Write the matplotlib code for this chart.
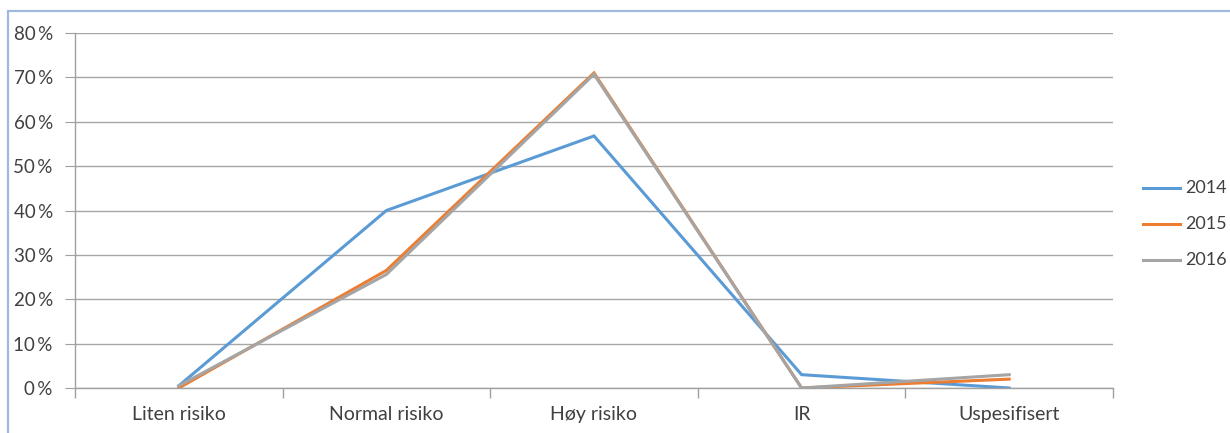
import matplotlib
matplotlib.use("Agg")
import matplotlib.pyplot as plt
from matplotlib.lines import Line2D
from matplotlib.patches import Rectangle
from matplotlib.ticker import FuncFormatter, MultipleLocator

categories = ["Liten risiko", "Normal risiko", "Høy risiko", "IR", "Uspesifisert"]
years = ["2014", "2015", "2016"]
v2014 = [0.5, 40.0, 56.8, 3.0, 0.0]
v2015 = [0.0, 26.5, 71.0, 0.0, 2.0]
v2016 = [0.5, 25.6, 70.7, 0.0, 3.0]
colors = ["#5B9BD5", "#ED7D31", "#A5A5A5"]

plt.rcParams["font.family"] = ["Lato", "DejaVu Sans"]
FS = 14
W, H = 1230, 433

fig = plt.figure(figsize=(12.3, 4.33), dpi=100)
# chart-area frame: only its top and left edges are inside the crop
fig.patches.append(Rectangle((8 / W, -0.05), 1.1, 1.05 - 11 / H,
                             transform=fig.transFigure, fill=False,
                             edgecolor="#9DB9DC", linewidth=1.6))
ax = fig.add_axes([75 / W, 1 - 388 / H, (1113 - 75) / W, (388 - 33) / H])

x = list(range(len(categories)))
for vals, lab, c in zip([v2014, v2015, v2016], years, colors):
    ax.plot(x, vals, color=c, lw=2.2, label=lab, solid_joinstyle="miter")

ax.set_xlim(-0.5, len(categories) - 0.5)
ax.set_ylim(0, 80)
ax.yaxis.set_major_locator(MultipleLocator(10))
ax.yaxis.set_major_formatter(FuncFormatter(lambda v, p: f"{v:.0f}\u2009%"))
ax.set_xticks(x)
ax.set_xticklabels(categories)
ax.set_xticks([i - 0.5 for i in range(len(categories) + 1)], minor=True)
ax.tick_params(axis="x", which="major", length=0, pad=13, labelsize=FS, colors="#404040")
ax.tick_params(axis="x", which="minor", length=7, color="#A0A0A0", width=1)
ax.tick_params(axis="y", length=7, color="#A0A0A0", labelsize=13.5, colors="#404040", pad=9)
ax.grid(axis="y", color="#A6A6A6", lw=1)
ax.set_axisbelow(True)
for s in ["top", "right"]:
    ax.spines[s].set_visible(False)
for s in ["left", "bottom"]:
    ax.spines[s].set_color("#A0A0A0")
    ax.spines[s].set_linewidth(1)

# legend to the right, drawn by hand so it sits exactly where Excel puts it
for i, (lab, c) in enumerate(zip(years, colors)):
    yy = 1 - (188 + 36 * i) / H
    fig.add_artist(Line2D([1143 / W, 1180 / W], [yy, yy], color=c, lw=2.2,
                          transform=fig.transFigure))
    fig.text(1185 / W, yy, lab, fontsize=13, color="#404040", va="center", ha="left")

fig.savefig("out.png", dpi=100)
